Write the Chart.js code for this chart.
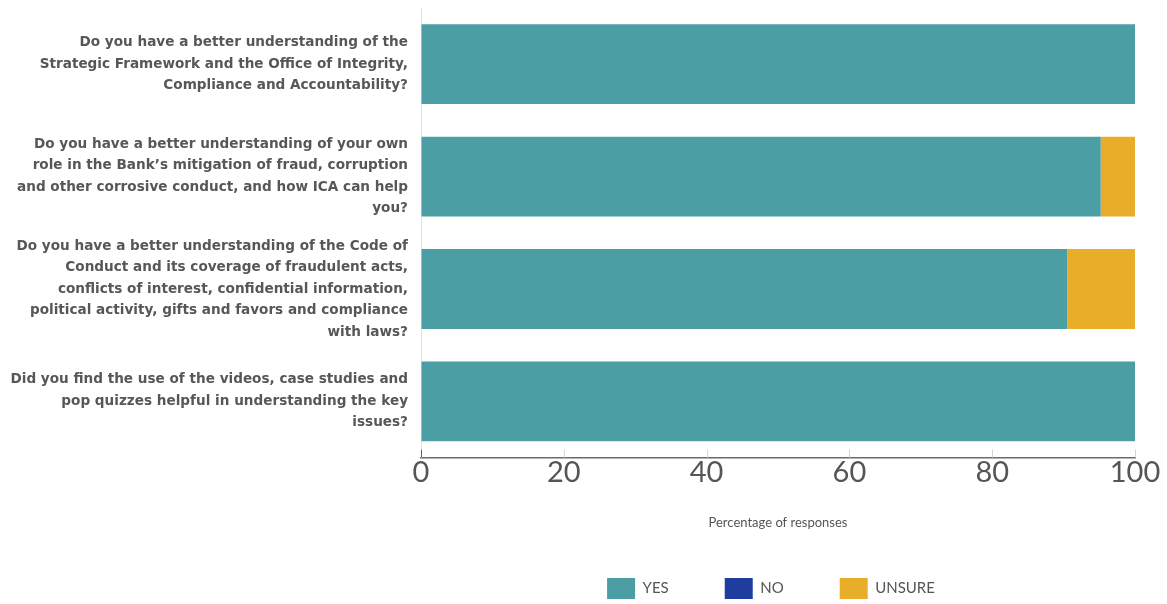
<!DOCTYPE html>
<html>
<head>
<meta charset="utf-8">
<script src="https://cdn.jsdelivr.net/npm/chart.js@4"></script>
<style>
  html, body { margin: 0; padding: 0; background: #fff; }
  #wrap { width: 1167px; height: 604px; position: relative; }
</style>
</head>
<body>
<div id="wrap"><canvas id="chart-responses"></canvas></div>
<script>
const questions = [
  ['Do you have a better understanding of the', 'Strategic Framework and the Office of Integrity,', 'Compliance and Accountability?'],
  ['Do you have a better understanding of your own', 'role in the Bank\u2019s mitigation of fraud, corruption', 'and other corrosive conduct, and how ICA can help', 'you?'],
  ['Do you have a better understanding of the Code of', 'Conduct and its coverage of fraudulent acts,', 'conflicts of interest, confidential information,', 'political activity, gifts and favors and compliance', 'with laws?'],
  ['Did you find the use of the videos, case studies and', 'pop quizzes helpful in understanding the key', 'issues?']
];

const yesValues = [100, 95.2, 90.5, 100];
const noValues = [0, 0, 0, 0];
const unsureValues = [0, 4.8, 9.5, 0];

const xTicks = [0, 20, 40, 60, 80, 100];

// short upward tick marks sitting on the x axis line
const axisTickMarks = {
  id: 'axisTickMarks',
  afterDatasetsDraw(chart) {
    const x = chart.scales.x;
    const { ctx, chartArea } = chart;
    ctx.save();
    ctx.lineWidth = 1;
    xTicks.forEach((v, i) => {
      const px = Math.round(x.getPixelForValue(v)) + 0.5;
      ctx.strokeStyle = i === 0 ? '#666' : '#d4d4d4';
      ctx.beginPath();
      ctx.moveTo(px, chartArea.bottom - 8);
      ctx.lineTo(px, chartArea.bottom);
      ctx.stroke();
    });
    ctx.restore();
  }
};

// centre the legend under the plot area rather than the whole canvas
const legendUnderPlot = {
  id: 'legendUnderPlot',
  beforeDraw(chart) {
    if (!chart.legend) return;
    chart.legend.left = chart.chartArea.left;
    chart.legend.right = chart.chartArea.right - 14;
  }
};

new Chart(document.getElementById('chart-responses'), {
  type: 'bar',
  data: {
    labels: questions,
    datasets: [
      { label: 'YES', data: yesValues, backgroundColor: '#4a9ea4' },
      { label: 'NO', data: noValues, backgroundColor: '#1f3d9f' },
      { label: 'UNSURE', data: unsureValues, backgroundColor: '#e8ae2a' }
    ]
  },
  options: {
    indexAxis: 'y',
    responsive: true,
    maintainAspectRatio: false,
    animation: false,
    categoryPercentage: 1,
    barPercentage: 0.71,
    layout: { padding: { top: 8, right: 32, bottom: -5, left: 0 } },
    scales: {
      x: {
        stacked: true,
        min: 0,
        max: 100,
        afterBuildTicks: (scale) => { scale.ticks = xTicks.map((v) => ({ value: v })); },
        grid: { drawOnChartArea: false, drawTicks: false },
        border: { color: '#6b6b6b', width: 1.5 },
        ticks: {
          padding: -2,
          color: '#555',
          font: { family: 'Lato', size: 29 }
        },
        title: {
          display: true,
          text: 'Percentage of responses',
          color: '#555',
          padding: { top: 27, bottom: -9 },
          font: { family: 'Lato', size: 13 }
        }
      },
      y: {
        stacked: true,
        afterFit: (scale) => {
          scale.width = 421;
          scale.paddingTop = 0;
          scale.paddingBottom = 0;
        },
        grid: { display: false, drawTicks: false },
        border: { color: '#e2e2e2', width: 1 },
        ticks: {
          autoSkip: false,
          padding: 13,
          color: '#575757',
          font: { family: 'DejaVu Sans', size: 13.6, weight: 'bold', lineHeight: 1.58 }
        }
      }
    },
    plugins: {
      legend: {
        position: 'bottom',
        labels: {
          boxWidth: 28,
          boxHeight: 21,
          padding: 56,
          color: '#555',
          font: { family: 'Lato', size: 15 }
        }
      },
      tooltip: { enabled: false }
    }
  },
  plugins: [axisTickMarks, legendUnderPlot]
});
</script>
</body>
</html>
